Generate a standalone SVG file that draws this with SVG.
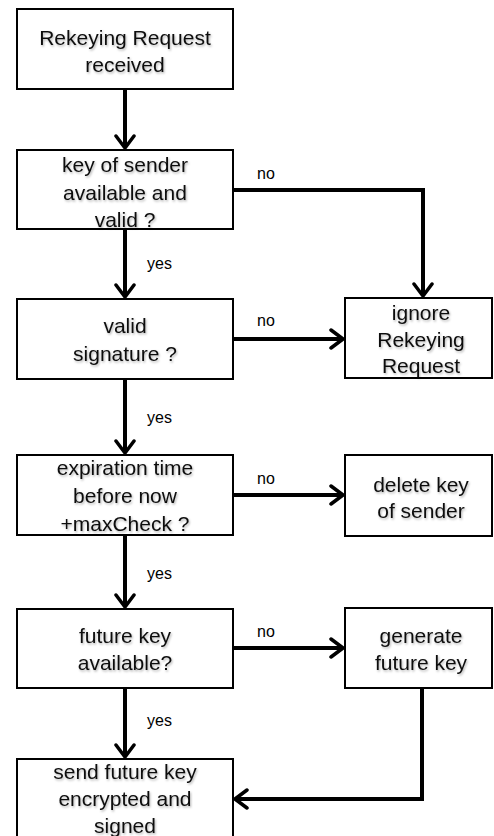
<svg xmlns="http://www.w3.org/2000/svg" width="494" height="836" viewBox="0 0 494 836">
<defs>
<style>
.box{fill:#fff;stroke:#000;stroke-width:2}
.t{font-family:"Liberation Sans",Arial,sans-serif;font-size:21px;fill:#111;text-anchor:middle;filter:url(#sh)}
.l{font-family:"Liberation Sans",Arial,sans-serif;font-size:16px;fill:#000}
.c{fill:none;stroke:#000;stroke-width:4}
</style>
<filter id="sh" x="-10%" y="-20%" width="130%" height="160%">
<feDropShadow dx="1" dy="1.5" stdDeviation="1" flood-color="#000" flood-opacity="0.3"/>
</filter>
<marker id="ah" viewBox="0 0 16 22" refX="14" refY="11" markerWidth="16" markerHeight="22" markerUnits="userSpaceOnUse" orient="auto">
<path d="M2,2 L14,11 L2,20" fill="none" stroke="#000" stroke-width="3.5" stroke-linecap="round" stroke-linejoin="round"/>
</marker>
</defs>
<rect width="494" height="836" fill="#fff"/>
<g id="connectors">
<path class="c" d="M125,89 V148" marker-end="url(#ah)"/>
<path class="c" d="M233,190 H423 V296" marker-end="url(#ah)"/>
<path class="c" d="M125,229 V297" marker-end="url(#ah)"/>
<path class="c" d="M233,339 H343" marker-end="url(#ah)"/>
<path class="c" d="M125,379 V453" marker-end="url(#ah)"/>
<path class="c" d="M233,495 H343" marker-end="url(#ah)"/>
<path class="c" d="M125,535 V607" marker-end="url(#ah)"/>
<path class="c" d="M233,648 H343" marker-end="url(#ah)"/>
<path class="c" d="M125,688 V757" marker-end="url(#ah)"/>
<path class="c" d="M422,688 V799 H235" marker-end="url(#ah)"/>
<text class="l" x="257" y="179">no</text>
<text class="l" x="147" y="269">yes</text>
<text class="l" x="257" y="326">no</text>
<text class="l" x="147" y="423">yes</text>
<text class="l" x="257" y="484">no</text>
<text class="l" x="147" y="579">yes</text>
<text class="l" x="257" y="637">no</text>
<text class="l" x="147" y="726">yes</text>
</g>
<g id="n1"><rect class="box" x="17" y="9" width="216" height="80"/>
<text class="t" x="125" y="45">Rekeying Request</text><text class="t" x="125" y="72">received</text></g>
<g id="n2"><rect class="box" x="17" y="150" width="216" height="79"/>
<text class="t" x="125" y="172">key of sender</text><text class="t" x="125" y="200">available and</text><text class="t" x="125" y="227">valid ?</text></g>
<g id="n3"><rect class="box" x="17" y="299" width="216" height="80"/>
<text class="t" x="125" y="333">valid</text><text class="t" x="125" y="361">signature ?</text></g>
<g id="n4"><rect class="box" x="17" y="455" width="216" height="80"/>
<text class="t" x="125" y="475">expiration time</text><text class="t" x="125" y="503">before now</text><text class="t" x="125" y="531">+maxCheck ?</text></g>
<g id="n5"><rect class="box" x="17" y="609" width="216" height="79"/>
<text class="t" x="125" y="643">future key</text><text class="t" x="125" y="670">available?</text></g>
<g id="n6"><rect class="box" x="17" y="759" width="216" height="90"/>
<text class="t" x="125" y="779">send future key</text><text class="t" x="125" y="806">encrypted and</text><text class="t" x="125" y="833">signed</text></g>
<g id="n7"><rect class="box" x="345" y="298" width="147" height="80"/>
<text class="t" x="421" y="320">ignore</text><text class="t" x="421" y="347">Rekeying</text><text class="t" x="421" y="373">Request</text></g>
<g id="n8"><rect class="box" x="345" y="455" width="147" height="81"/>
<text class="t" x="421" y="492">delete key</text><text class="t" x="421" y="518">of sender</text></g>
<g id="n9"><rect class="box" x="345" y="608" width="147" height="80"/>
<text class="t" x="421" y="643">generate</text><text class="t" x="421" y="670">future key</text></g>
</svg>
